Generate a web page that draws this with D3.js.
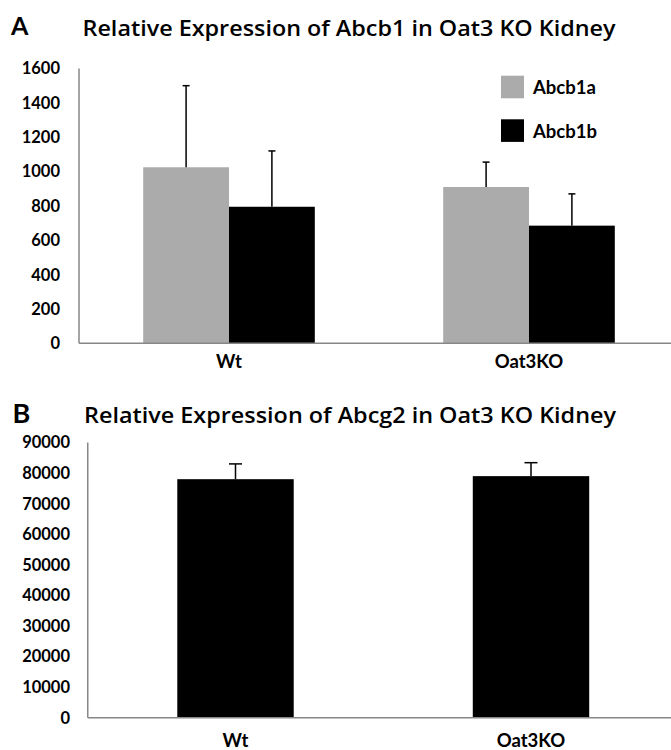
<!DOCTYPE html>
<html>
<head>
<meta charset="utf-8">
<script src="https://cdn.jsdelivr.net/npm/d3@7/dist/d3.min.js"></script>
<style>
  html, body { margin: 0; padding: 0; background: #fff; }
  svg { display: block; }
  text { font-family: Lato, "Open Sans", sans-serif; fill: #000; }
  .title { font-family: "Open Sans", Lato, sans-serif; font-weight: 600; }
</style>
</head>
<body>
<svg id="fig" width="671" height="750"></svg>
<script>
// Groups shared by both panels
const groups = ["Wt", "Oat3KO"];

// Panel A: Abcb1 isoforms (mean and SD)
const seriesA = ["Abcb1a", "Abcb1b"];
const abcb1aMean = [1025, 910];
const abcb1aSD = [475, 145];
const abcb1bMean = [795, 685];
const abcb1bSD = [325, 185];
const ticksA = [0, 200, 400, 600, 800, 1000, 1200, 1400, 1600];

// Panel B: Abcg2 (mean and SD)
const abcg2Mean = [78000, 79000];
const abcg2SD = [5000, 4400];
const ticksB = [0, 10000, 20000, 30000, 40000, 50000, 60000, 70000, 80000, 90000];

const colors = { Abcb1a: "#ababab", Abcb1b: "#000000", Abcg2: "#000000" };

const svg = d3.select("#fig");
svg.append("rect").attr("width", 671).attr("height", 750).attr("fill", "#fff");

function panel(opts) {
  const g = svg.append("g");
  const y = d3.scaleLinear().domain(opts.domain).range([opts.y0, opts.y1]);
  const x0 = d3.scaleBand().domain(groups).range([opts.x0, opts.x1])
    .paddingInner(opts.padIn).paddingOuter(opts.padOut);
  const x1 = d3.scaleBand().domain(opts.series).range([0, x0.bandwidth()]);

  // panel letter and title
  g.append("text").attr("x", opts.letterX).attr("y", opts.letterY)
    .attr("font-size", opts.letterSize).attr("font-weight", 700).text(opts.letter);
  g.append("text").attr("class", "title").attr("x", opts.titleX).attr("y", opts.titleY)
    .attr("font-size", 22).attr("textLength", opts.titleW)
    .attr("lengthAdjust", "spacingAndGlyphs").text(opts.title);

  // y tick labels
  g.selectAll(".yl").data(opts.ticks).join("text")
    .attr("x", opts.tickX).attr("y", d => y(d)).attr("dy", "0.36em")
    .attr("text-anchor", "end").attr("font-size", 16.5).attr("font-weight", 700)
    .text(d => d);

  // bars
  const rows = [];
  groups.forEach((grp, i) => {
    opts.series.forEach((s, j) => {
      rows.push({ grp, s, mean: opts.means[j][i], sd: opts.sds[j][i] });
    });
  });
  const bx = d => x0(d.grp) + x1(d.s);
  g.selectAll(".bar").data(rows).join("rect")
    .attr("x", bx).attr("y", d => y(d.mean))
    .attr("width", x1.bandwidth()).attr("height", d => y(0) - y(d.mean))
    .attr("fill", d => colors[d.s]);

  // upper error bars
  const cx = d => bx(d) + x1.bandwidth() / 2;
  g.selectAll(".ev").data(rows).join("line")
    .attr("x1", cx).attr("x2", cx)
    .attr("y1", d => y(d.mean)).attr("y2", d => y(d.mean + d.sd))
    .attr("stroke", "#000").attr("stroke-width", 1.5);
  g.selectAll(".ec").data(rows).join("line")
    .attr("x1", d => cx(d) - opts.cap / 2).attr("x2", d => cx(d) + opts.cap / 2)
    .attr("y1", d => y(d.mean + d.sd)).attr("y2", d => y(d.mean + d.sd))
    .attr("stroke", "#000").attr("stroke-width", 1.5);

  // axes lines
  g.append("line").attr("x1", opts.x0).attr("x2", opts.x0)
    .attr("y1", y(opts.domain[1])).attr("y2", y(0))
    .attr("stroke", "#878787").attr("stroke-width", 1.5);
  g.append("line").attr("x1", opts.x0).attr("x2", 671)
    .attr("y1", y(0)).attr("y2", y(0))
    .attr("stroke", "#878787").attr("stroke-width", 1.5);

  // category labels
  g.selectAll(".xl").data(groups).join("text")
    .attr("x", d => x0(d) + x0.bandwidth() / 2).attr("y", opts.xLabelY)
    .attr("text-anchor", "middle").attr("font-size", 18.5).attr("font-weight", 700)
    .text(d => d);

  return { g, y, x0 };
}

const pA = panel({
  letter: "A", letterX: 11, letterY: 35, letterSize: 25,
  title: "Relative Expression of Abcb1 in Oat3 KO Kidney",
  titleX: 82.5, titleY: 35.7, titleW: 533,
  domain: [0, 1600], y0: 343.3, y1: 68.5,
  x0: 79, x1: 679, padIn: 0.428, padOut: 0.214,
  series: seriesA, means: [abcb1aMean, abcb1bMean], sds: [abcb1aSD, abcb1bSD],
  ticks: ticksA, tickX: 60, cap: 7, xLabelY: 368
});

// legend for panel A
const leg = pA.g.selectAll(".leg").data(seriesA).join("g")
  .attr("transform", (d, i) => `translate(501, ${75.7 + i * 43.6})`);
leg.append("rect").attr("width", 23).attr("height", 22.6).attr("fill", d => colors[d]);
leg.append("text").attr("x", 32).attr("y", 18.3)
  .attr("font-size", 18.5).attr("font-weight", 700).text(d => d);

panel({
  letter: "B", letterX: 12.5, letterY: 422.7, letterSize: 27,
  title: "Relative Expression of Abcg2 in Oat3 KO Kidney",
  titleX: 84, titleY: 423.3, titleW: 532,
  domain: [0, 90000], y0: 717.7, y1: 442.5,
  x0: 87.75, x1: 678.75, padIn: 0.606, padOut: 0.303,
  series: ["Abcg2"], means: [abcg2Mean], sds: [abcg2SD],
  ticks: ticksB, tickX: 70, cap: 13, xLabelY: 747
});
</script>
</body>
</html>
